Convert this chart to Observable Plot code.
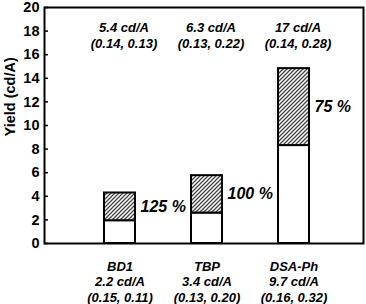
<!DOCTYPE html>
<html>
<head>
<meta charset="utf-8">
<script src="https://cdn.jsdelivr.net/npm/d3@7"></script>
<script src="https://cdn.jsdelivr.net/npm/@observablehq/plot@0.6"></script>
<style>
  html, body { margin: 0; padding: 0; background: #fff; }
  #chart svg { display: block; }
</style>
</head>
<body>
<div id="chart"></div>
<script>
// Data
const categories = ["BD1", "TBP", "DSA-Ph"];
const baseYield = [1.93, 2.58, 8.3];      // lower (open) bar segment top
const totalYield = [4.28, 5.75, 14.82];   // total bar height (hatched top)
const gainLabels = ["125 %", "100 %", "75 %"];
const topLabels = ["5.4 cd/A\n(0.14, 0.13)", "6.3 cd/A\n(0.13, 0.22)", "17 cd/A\n(0.14, 0.28)"];
const bottomLabels = ["BD1\n2.2 cd/A\n(0.15, 0.11)", "TBP\n3.4 cd/A\n(0.13, 0.20)", "DSA-Ph\n9.7 cd/A\n(0.16, 0.32)"];
const yTicks = [0, 2, 4, 6, 8, 10, 12, 14, 16, 18, 20];
const yLabel = "Yield (cd/A)";

const rows = categories.map((c, i) => ({
  cat: c, base: baseYield[i], total: totalYield[i],
  mid: (baseYield[i] + totalYield[i]) / 2,
  gain: gainLabels[i], top: topLabels[i], bottom: bottomLabels[i]
}));

const font = "Liberation Sans, Arial, Helvetica, sans-serif";

const chart = Plot.plot({
  width: 366,
  height: 304,
  marginLeft: 44,
  marginRight: 3,
  marginTop: 7,
  marginBottom: 61,
  style: { fontFamily: font, fontWeight: "bold", background: "white", color: "black" },
  x: { domain: categories, paddingInner: 0.642, paddingOuter: 0.634, align: 0.526, axis: null },
  y: { domain: [0, 20] },
  marks: [
    Plot.barY(rows, { x: "cat", y1: 0, y2: "base", fill: "white", stroke: "black", strokeWidth: 2 }),
    Plot.barY(rows, { x: "cat", y1: "base", y2: "total", fill: "url(#hatch)", stroke: "black", strokeWidth: 2 }),
    Plot.axisY({ ticks: yTicks, tickSize: -4, tickPadding: 9, tickFormat: d => String(d), fontSize: 14.5, fontWeight: "bold", label: null, strokeWidth: 1.5 }),
    Plot.text([yLabel], { frameAnchor: "left", rotate: -90, dx: -34, dy: 11, fontSize: 14.5, fontWeight: "bold" }),
    Plot.text(rows, { x: "cat", y: "mid", text: "gain", textAnchor: "start", dx: 20.5, fontSize: 16, fontWeight: "bold", fontStyle: "italic" }),
    Plot.text(rows, { x: "cat", text: "top", frameAnchor: "top", lineAnchor: "middle", dy: 27.5, dx: 4, fontSize: 13, lineHeight: 1.2, fontWeight: "bold", fontStyle: "italic" }),
    Plot.text(rows, { x: "cat", text: "bottom", frameAnchor: "bottom", lineAnchor: "middle", dy: 38, fontSize: 13, lineHeight: 1.17, fontWeight: "bold", fontStyle: "italic" }),
    Plot.frame({ stroke: "black", strokeWidth: 2 })
  ]
});

// hatch pattern definition
const ns = "http://www.w3.org/2000/svg";
const defs = document.createElementNS(ns, "defs");
defs.innerHTML = `<pattern id="hatch" patternUnits="userSpaceOnUse" width="4" height="4">
  <rect width="4" height="4" fill="white"/>
  <path d="M-1,1 l2,-2 M0,4 l4,-4 M3,5 l2,-2" stroke="#444" stroke-width="1.3"/>
</pattern>`;
chart.insertBefore(defs, chart.firstChild);

document.getElementById("chart").appendChild(chart);
</script>
</body>
</html>
